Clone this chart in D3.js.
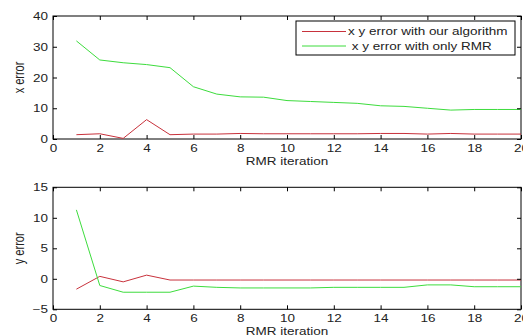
<!DOCTYPE html>
<html>
<head>
<meta charset="utf-8">
<script src="https://cdn.jsdelivr.net/npm/d3@7"></script>
<style>
  html, body { margin: 0; padding: 0; background: #fff; }
  svg { display: block; }
  text { font-family: "Liberation Sans", Arial, sans-serif; fill: #222; }
</style>
</head>
<body>
<svg id="chart" width="523" height="336"></svg>
<script>
// ---- data ----
const iterations = [1,2,3,4,5,6,7,8,9,10,11,12,13,14,15,16,17,18,19,20];
const xErrOurs = [1.4,1.7,0.2,6.3,1.4,1.6,1.6,1.8,1.7,1.7,1.7,1.7,1.7,1.8,1.8,1.6,1.8,1.6,1.6,1.6];
const xErrRMR  = [31.9,25.7,24.8,24.2,23.2,17.0,14.6,13.7,13.6,12.5,12.2,11.9,11.6,10.8,10.6,10.0,9.4,9.6,9.6,9.6];
const yErrOurs = [-1.7,0.4,-0.5,0.6,-0.2,-0.2,-0.2,-0.2,-0.2,-0.2,-0.2,-0.2,-0.2,-0.2,-0.2,-0.2,-0.2,-0.2,-0.2,-0.2];
const yErrRMR  = [11.3,-1.1,-2.2,-2.2,-2.2,-1.2,-1.4,-1.5,-1.5,-1.5,-1.5,-1.4,-1.4,-1.4,-1.4,-1.0,-1.0,-1.3,-1.3,-1.3];
const xTicks = [0,2,4,6,8,10,12,14,16,18,20];
const topYTicks = [0,10,20,30,40];
const botYTicks = [-5,0,5,10,15];
const legendLabels = ["x y error with our algorithm", " x y error with only RMR"];
const xLabel = "RMR iteration";
const topYLabel = "x error";
const botYLabel = "y error";

const RED = "#c8323c", GREEN = "#3ddc3d";
const SX = 1.35; // horizontal stretch of the original fonts

const svg = d3.select("#chart");

function panel(top, bottom, yDomain, yTicks, series, yLabel, legend) {
  const x = d3.scaleLinear().domain([0, 20]).range([53, 521]);
  const y = d3.scaleLinear().domain(yDomain).range([bottom, top]);
  const g = svg.append("g");

  // frame
  g.append("rect").attr("x", x(0)).attr("y", top)
    .attr("width", x(20) - x(0)).attr("height", bottom - top)
    .attr("fill", "#fff").attr("stroke", "#000").attr("stroke-width", 1);

  // lines
  const clipId = "clip" + Math.round(top);
  svg.append("clipPath").attr("id", clipId).append("rect")
    .attr("x", x(0)).attr("y", top).attr("width", x(20) - x(0)).attr("height", bottom - top);
  const lg = g.append("g").attr("clip-path", `url(#${clipId})`);
  series.forEach(s => {
    const line = d3.line().x((d, i) => x(iterations[i])).y(d => y(d));
    lg.append("path").datum(s.values).attr("d", line)
      .attr("fill", "none").attr("stroke", s.color).attr("stroke-width", 1);
  });

  // axes
  const ax = g.append("g").attr("transform", `translate(0,${bottom})`)
    .call(d3.axisBottom(x).tickValues(xTicks).tickSize(-4).tickSizeOuter(0).tickFormat(d3.format("d")));
  ax.selectAll("text").attr("y", 13).attr("dy", 0).attr("transform", `scale(${SX},1)`)
    .attr("font-size", 10).attr("fill", "#222");
  g.append("g").attr("transform", `translate(0,${top})`)
    .call(d3.axisTop(x).tickValues(xTicks).tickSize(-4).tickSizeOuter(0).tickFormat(""));
  const ay = g.append("g").attr("transform", `translate(${x(0)},0)`)
    .call(d3.axisLeft(y).tickValues(yTicks).tickSize(-4).tickSizeOuter(0).tickFormat(d3.format("d")));
  ay.selectAll("text").attr("x", -5 / SX).attr("dy", "0.35em").attr("transform", `scale(${SX},1)`)
    .attr("font-size", 10).attr("fill", "#222");
  g.append("g").attr("transform", `translate(${x(20)},0)`)
    .call(d3.axisRight(y).tickValues(yTicks).tickSize(-4).tickSizeOuter(0).tickFormat(""));
  g.selectAll(".domain").remove();
  g.selectAll(".tick line").attr("stroke", "#000");

  // axis labels
  g.append("text").attr("transform", `translate(${(x(0) + x(20)) / 2},${bottom + 26}) scale(${SX},1)`)
    .attr("text-anchor", "middle").attr("font-size", 10).text(xLabel);
  g.append("text").attr("transform", `translate(24,${(top + bottom) / 2}) rotate(-90) scale(1,1.25)`)
    .attr("text-anchor", "middle").attr("font-size", 11).text(yLabel);

  if (legend) {
    const lx = 296, ly = 21, lw = 219, lh = 34;
    g.append("rect").attr("x", lx).attr("y", ly).attr("width", lw).attr("height", lh)
      .attr("fill", "#fff").attr("stroke", "#000").attr("stroke-width", 1);
    const rows = [{ y: ly + 10.5, c: RED, t: legendLabels[0], tx: 348 },
                  { y: ly + 25, c: GREEN, t: legendLabels[1], tx: 348 }];
    rows.forEach(r => {
      g.append("line").attr("x1", 302).attr("x2", 346).attr("y1", r.y).attr("y2", r.y)
        .attr("stroke", r.c).attr("stroke-width", 1);
      g.append("text").attr("transform", `translate(${r.tx},${r.y + 3.5}) scale(${SX},1)`)
        .attr("font-size", 10).attr("xml:space", "preserve").style("white-space", "pre").text(r.t);
    });
  }
}

panel(16, 139, [0, 40], topYTicks,
  [{ values: xErrOurs, color: RED }, { values: xErrRMR, color: GREEN }], topYLabel, true);
panel(187.3, 309.3, [-5, 15], botYTicks,
  [{ values: yErrOurs, color: RED }, { values: yErrRMR, color: GREEN }], botYLabel, false);
</script>
</body>
</html>
